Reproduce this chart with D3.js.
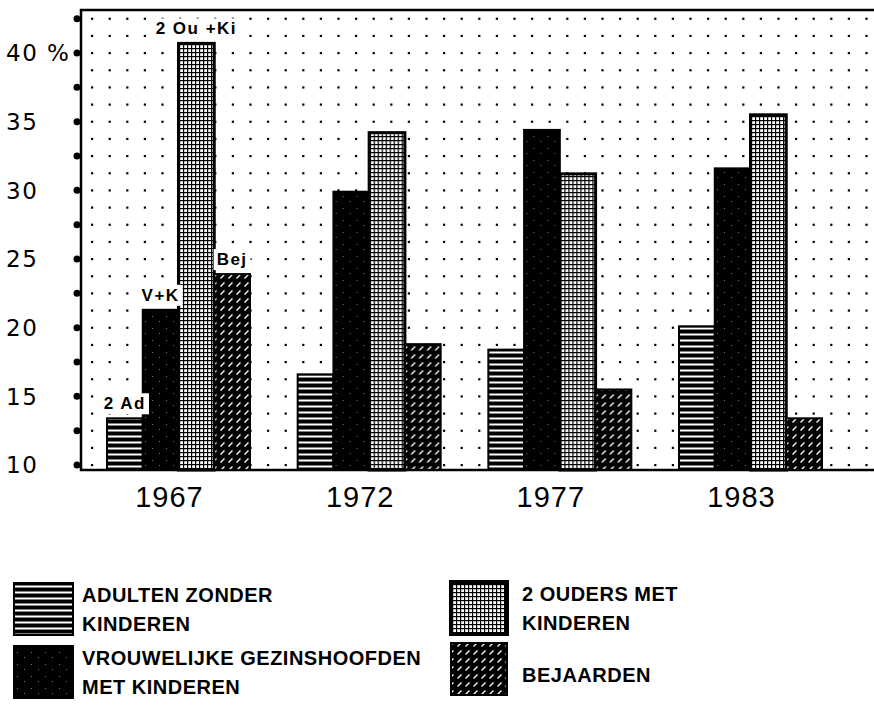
<!DOCTYPE html>
<html>
<head>
<meta charset="utf-8">
<script src="https://cdn.jsdelivr.net/npm/d3@7"></script>
<style>
body { margin: 0; background: #fff; }
</style>
</head>
<body>
<div id="chart"></div>
<script>
// values (percent of households)
var years = ["1967", "1972", "1977", "1983"];
var categories = ["adulten", "vrouwen", "ouders", "bejaarden"];
var adulten = [13.4, 16.6, 18.4, 20.1];
var vrouwen = [21.3, 29.9, 34.4, 31.6];
var ouders = [40.7, 34.2, 31.2, 35.5];
var bejaarden = [23.9, 18.8, 15.5, 13.4];
var barLabels = ["2 Ad", "V+K", "2 Ou +Ki", "Bej"];
var tickValues = [10, 15, 20, 25, 30, 35, 40];
var tickLabels = ["10", "15", "20", "25", "30", "35", "40 %"];
var legendLines = [
    ["ADULTEN ZONDER", "KINDEREN"],
    ["VROUWELIJKE GEZINSHOOFDEN", "MET KINDEREN"],
    ["2 OUDERS MET", "KINDEREN"],
    ["BEJAARDEN"]
];

var series = [adulten, vrouwen, ouders, bejaarden];
var width = 874, height = 705;
var frame = {left: 81, top: 10, right: 874, bottom: 470};

var svg = d3.select("#chart").append("svg")
    .attr("width", width)
    .attr("height", height);

// fill patterns of the old printout
var defs = svg.append("defs");

var hor = defs.append("pattern").attr("id", "p-adulten")
    .attr("patternUnits", "userSpaceOnUse").attr("width", 8).attr("height", 6);
hor.append("rect").attr("width", 8).attr("height", 6).attr("fill", "#000");
hor.append("rect").attr("y", 3.5).attr("width", 8).attr("height", 2).attr("fill", "#fff");

var solid = defs.append("pattern").attr("id", "p-vrouwen")
    .attr("patternUnits", "userSpaceOnUse").attr("width", 14).attr("height", 12);
solid.append("rect").attr("width", 14).attr("height", 12).attr("fill", "#000");
solid.append("rect").attr("x", 3).attr("y", 4).attr("width", 1).attr("height", 1).attr("fill", "#777");
solid.append("rect").attr("x", 10).attr("y", 9).attr("width", 1).attr("height", 1).attr("fill", "#777");

var grid = defs.append("pattern").attr("id", "p-ouders")
    .attr("patternUnits", "userSpaceOnUse").attr("width", 4).attr("height", 4);
grid.append("rect").attr("width", 4).attr("height", 4).attr("fill", "#fff");
grid.append("rect").attr("width", 4).attr("height", 1.2).attr("fill", "#000");
grid.append("rect").attr("width", 1.2).attr("height", 4).attr("fill", "#000");

var diag = defs.append("pattern").attr("id", "p-bejaarden")
    .attr("patternUnits", "userSpaceOnUse").attr("width", 8).attr("height", 8);
diag.append("rect").attr("width", 8).attr("height", 8).attr("fill", "#000");
diag.append("path").attr("d", "M1.5,6.5 L5.5,2.5").attr("stroke", "#fff").attr("stroke-width", 1.2);

var y = d3.scaleLinear().domain([10, 40]).range([465, 53]);

var x0 = d3.scaleBand()
    .domain(years)
    .range([107, 822])
    .paddingInner(0.25)
    .paddingOuter(0);

var x1 = d3.scaleBand()
    .domain(categories)
    .range([0, x0.bandwidth()]);

// dotted background
var dotRows = d3.range(10, 43, 1.25);
var dotCols = d3.range(92, frame.right, 17.6);
var dots = svg.append("g");
dotRows.forEach(function(v) {
    dotCols.forEach(function(cx) {
        dots.append("rect")
            .attr("x", cx - 1).attr("y", y(v) - 1)
            .attr("width", 2.2).attr("height", 2.2)
            .attr("fill", "#000");
    });
});

// frame
svg.append("path")
    .attr("d", "M" + frame.right + "," + frame.top + " H" + frame.left + " V" + frame.bottom + " H" + frame.right)
    .attr("fill", "none")
    .attr("stroke", "#000")
    .attr("stroke-width", 2.5);

// bars
var groups = svg.selectAll("g.year").data(years).enter()
    .append("g")
    .attr("class", "year")
    .attr("transform", function(d) { return "translate(" + x0(d) + ",0)"; });

groups.selectAll("rect")
    .data(function(d, i) {
        return categories.map(function(c, j) { return {cat: c, value: series[j][i]}; });
    })
    .enter()
    .append("rect")
    .attr("x", function(d) { return x1(d.cat); })
    .attr("y", function(d) { return y(d.value); })
    .attr("width", x1.bandwidth())
    .attr("height", function(d) { return frame.bottom - y(d.value); })
    .attr("fill", function(d) { return "url(#p-" + d.cat + ")"; })
    .attr("stroke", "#000")
    .attr("stroke-width", function(d) { return d.cat == "ouders" ? 3 : 2; });

// short labels on the first group
categories.forEach(function(c, j) {
    var v = series[j][0];
    var cx = x0(years[0]) + x1(c) + x1.bandwidth() / 2;
    var g = svg.append("g");
    var t = g.append("text")
        .attr("x", cx)
        .attr("y", y(v) - 9)
        .attr("text-anchor", "middle")
        .attr("font-family", "Liberation Sans, Arial, sans-serif")
        .attr("font-weight", "bold")
        .attr("font-size", "17px")
        .attr("letter-spacing", "1.5px")
        .text(barLabels[j]);
    var bb = t.node().getBBox();
    g.insert("rect", "text")
        .attr("x", bb.x - 3).attr("y", bb.y - 1)
        .attr("width", bb.width + 6).attr("height", bb.height + 2)
        .attr("fill", "#fff");
});

// y axis: dot ticks and labels
svg.selectAll("circle.tick")
    .data(d3.range(10, 43, 2.5))
    .enter()
    .append("circle")
    .attr("class", "tick")
    .attr("cx", 77)
    .attr("cy", function(d) { return y(d); })
    .attr("r", 3.5)
    .attr("fill", "#000");

svg.selectAll("text.ylab")
    .data(tickValues)
    .enter()
    .append("text")
    .attr("class", "ylab")
    .attr("x", 6)
    .attr("y", function(d) { return y(d); })
    .attr("dy", "0.36em")
    .attr("font-family", "DejaVu Sans, sans-serif")
    .attr("font-size", "23px")
    .attr("letter-spacing", "1.5px")
    .text(function(d, i) { return tickLabels[i]; });

// year labels
svg.selectAll("text.xlab")
    .data(years)
    .enter()
    .append("text")
    .attr("class", "xlab")
    .attr("x", function(d) { return x0(d) + x0.bandwidth() / 2 - 9; })
    .attr("y", 507)
    .attr("text-anchor", "middle")
    .attr("font-family", "Liberation Sans, Arial, sans-serif")
    .attr("font-size", "29px")
    .attr("letter-spacing", "1px")
    .text(function(d) { return d; });

// legend
var legendPos = [[14, 583], [14, 646], [451, 582], [451, 643]];
categories.forEach(function(c, j) {
    var p = legendPos[j];
    svg.append("rect")
        .attr("x", p[0]).attr("y", p[1])
        .attr("width", j < 2 ? 59 : 56).attr("height", 52)
        .attr("fill", "url(#p-" + c + ")")
        .attr("stroke", "#000")
        .attr("stroke-width", c == "ouders" ? 4 : 2);
    var lines = legendLines[j];
    var tx = p[0] + (j < 2 ? 68 : 71);
    var t = svg.append("text")
        .attr("font-family", "Liberation Sans, Arial, sans-serif")
        .attr("font-weight", "bold")
        .attr("font-size", "20px")
        .attr("letter-spacing", "0.5px");
    lines.forEach(function(line, k) {
        t.append("tspan")
            .attr("x", tx)
            .attr("y", lines.length == 1 ? p[1] + 39 : p[1] + 19 + k * 29)
            .text(line);
    });
});
</script>
</body>
</html>
